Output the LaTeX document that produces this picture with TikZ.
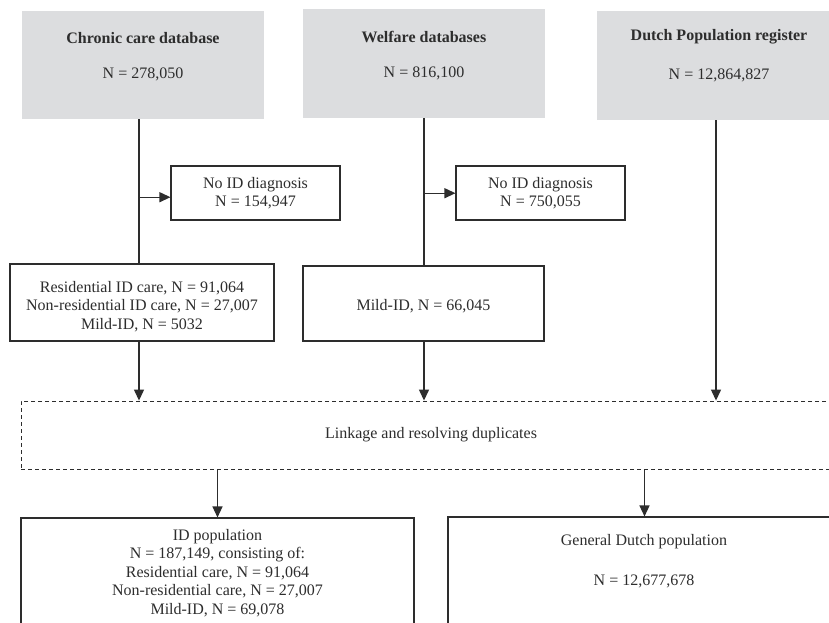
\documentclass[tikz,border=0pt]{standalone}
\usepackage{fontspec}
\setmainfont{Liberation Serif}
\usetikzlibrary{arrows.meta,calc}
\definecolor{boxgrey}{RGB}{220,221,223}
\definecolor{ink}{RGB}{45,45,45}
\tikzset{
  greybox/.style={draw=none,fill=boxgrey,rectangle,inner sep=0pt},
  plainbox/.style={draw=ink,line width=1.1pt,fill=white,rectangle,inner sep=0pt},
  dashbox/.style={draw=ink,line width=0.9pt,dash pattern=on 4pt off 3pt,rectangle,inner sep=0pt},
  txt/.style={inner sep=0pt,align=center,font=\fontsize{16}{18.5}\selectfont,text=ink},
  conn/.style={draw=ink,line width=1.3pt},
  arr/.style={conn,-{Triangle[length=11pt,width=10pt]}},
}
\begin{document}
\begin{tikzpicture}[x=1pt,y=-1pt]
\useasboundingbox (0,0) rectangle (829,622);
\clip (0,0) rectangle (829,622);
\fill[white] (0,0) rectangle (829,622);
% grey source boxes
\node[greybox,minimum width=242pt,minimum height=108pt] (c1) at (143,65) {};
\node[greybox,minimum width=242pt,minimum height=109pt] (w1) at (424,63.5) {};
\node[greybox,minimum width=244pt,minimum height=109pt] (d1) at (719,65.5) {};
\node[txt] (c1t) at (143,38) {\textbf{Chronic care database}};
\node[txt] (c1n) at (143,74) {N = 278,050};
\node[txt] (w1t) at (424,37) {\textbf{Welfare databases}};
\node[txt] (w1n) at (424,73) {N = 816,100};
\node[txt] (d1t) at (719,37) {\textbf{Dutch Population register}};
\node[txt] (d1n) at (719,75) {N = 12,864,827};
% exclusion boxes
\node[plainbox,minimum width=169pt,minimum height=54pt] (nd1) at (255.5,193) {};
\node[txt] at (nd1) {No ID diagnosis\\N = 154,947};
\node[plainbox,minimum width=169pt,minimum height=54pt] (nd2) at (540.5,193) {};
\node[txt] at (nd2) {No ID diagnosis\\N = 750,055};
% selected boxes
\node[plainbox,minimum width=264pt,minimum height=77pt] (r1) at (142,302.5) {};
\node[txt] (r1t) at (142,306.5) {Residential ID care, N = 91,064\\Non-residential ID care, N = 27,007\\Mild-ID, N = 5032};
\node[plainbox,minimum width=241pt,minimum height=75pt] (m1) at (423.5,303.5) {};
\node[txt] (m1t) at (423.5,306) {Mild-ID, N = 66,045};
% linkage
\node[dashbox,minimum width=820pt,minimum height=68pt] (lk) at (431,435) {};
\node[txt] (lkt) at (431,435) {Linkage and resolving duplicates};
% results
\node[plainbox,minimum width=393pt,minimum height=112pt] (id) at (217.5,574) {};
\node[txt] (idt) at (217.5,573) {ID population\\N = 187,149, consisting of:\\Residential care, N = 91,064\\Non-residential care, N = 27,007\\Mild-ID, N = 69,078};
\node[plainbox,minimum width=393pt,minimum height=112pt] (gp) at (644.5,573) {};
\node[txt] (gpt) at (644,542) {General Dutch population};
\node[txt] (gpn) at (644,581) {N = 12,677,678};
% connectors
\coordinate (c1s) at ([xshift=-4pt]c1.south);
\coordinate (b1) at ($(c1s)+(0,78)$);
\draw[conn] (c1s) -- (c1s |- r1.north);
\draw[arr] (b1) -- (b1 -| nd1.west);
\coordinate (r1s) at (c1s |- r1.south);
\draw[arr] (r1s) -- (r1s |- lk.north);
\coordinate (b2) at ($(w1.south)+(0,75)$);
\draw[conn] (w1.south) -- (w1.south |- m1.north);
\draw[arr] (b2) -- (b2 -| nd2.west);
\draw[arr] (w1.south |- m1.south) -- (w1.south |- lk.north);
\coordinate (d1s) at ([xshift=-3pt]d1.south);
\draw[arr] (d1s) -- (d1s |- lk.north);
\draw[arr] (id.north |- lk.south) -- (id.north);
\draw[arr] (gp.north |- lk.south) -- (gp.north);
\end{tikzpicture}
\end{document}
